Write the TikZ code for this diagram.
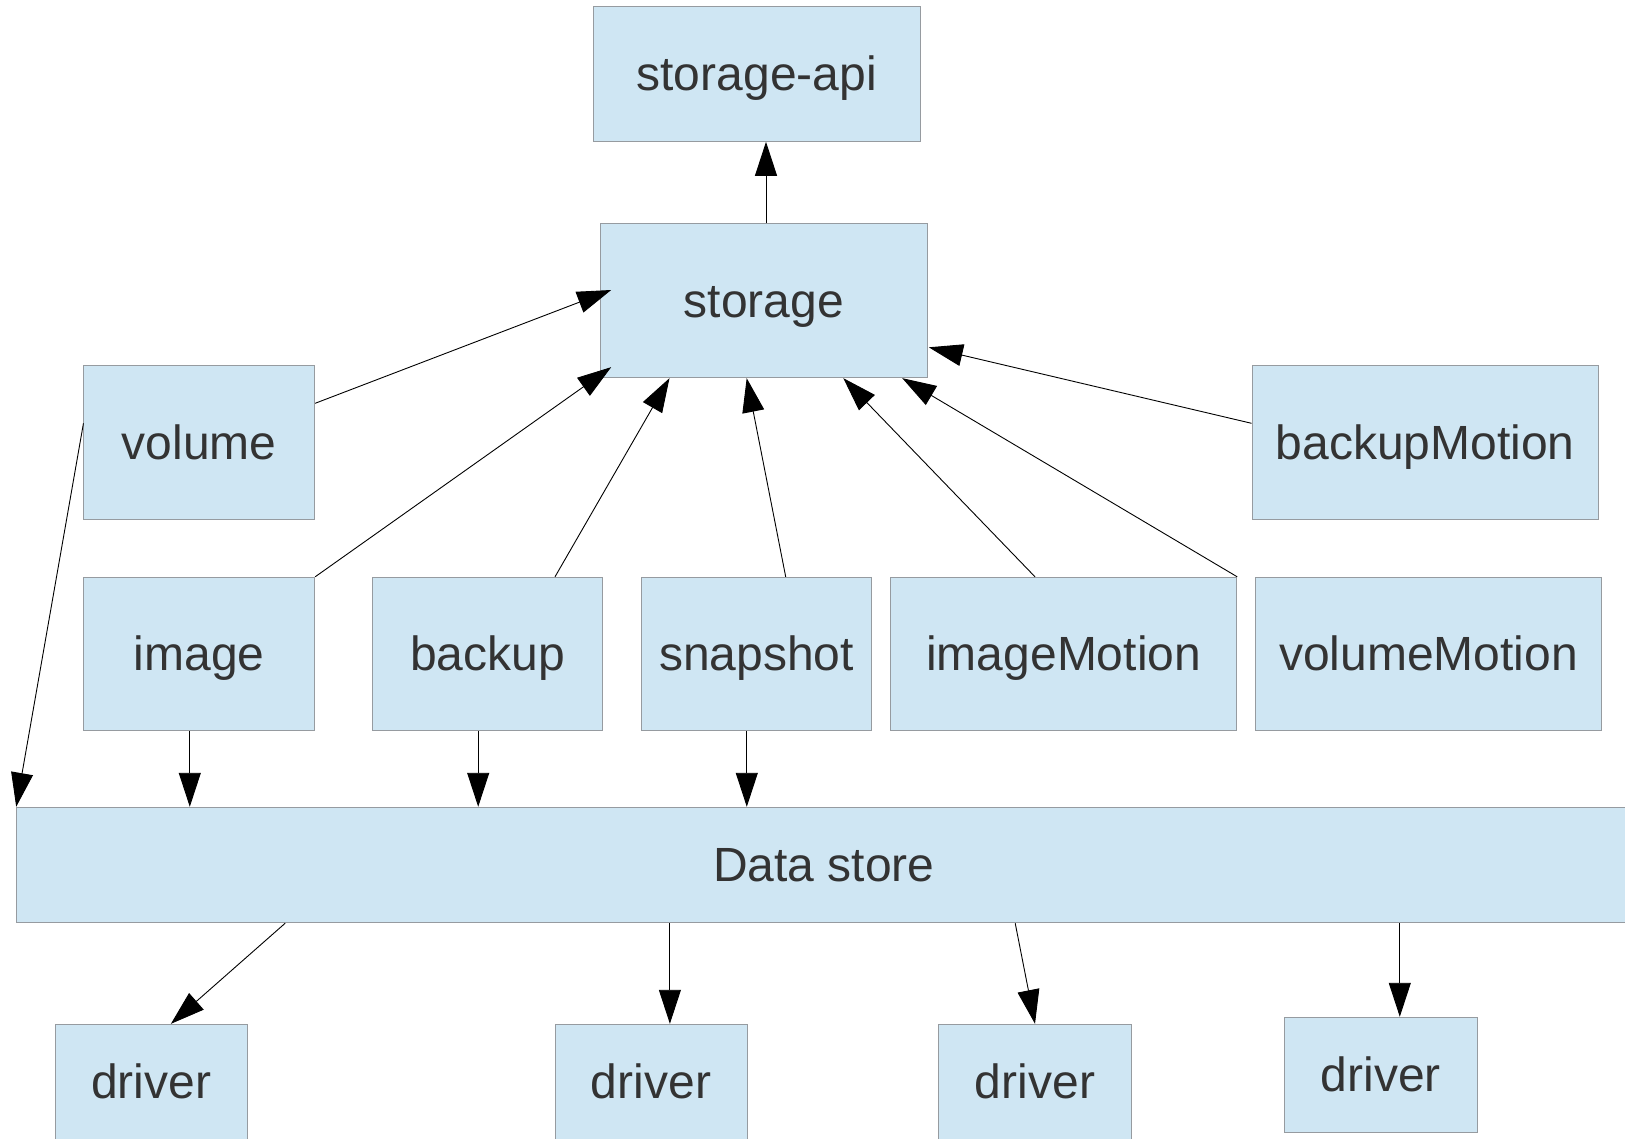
\documentclass[tikz,border=0pt]{standalone}
\usepackage{fontspec}
\setmainfont{Liberation Sans}
\usetikzlibrary{arrows.meta,calc}
\definecolor{boxfill}{RGB}{207,230,243}
\definecolor{boxline}{RGB}{150,155,160}
\definecolor{labeltext}{RGB}{51,51,51}

\begin{document}
\begin{tikzpicture}[x=1pt,y=-1pt,
  box/.style={draw=boxline, fill=boxfill, line width=1pt, inner sep=0pt,
    text=labeltext, font=\fontsize{48}{57}\selectfont,
    text height=33pt, text depth=0pt},
  link/.style={draw=black, line width=0.9pt,
    -{Triangle[length=34pt,width=22pt]}}]

\clip (0,0) rectangle (1625,1138);
\fill[white] (0,0) rectangle (1625,1138);

% top
\node[box, minimum width=326.7pt, minimum height=134.6pt] (api) at (756.7,74) {storage-api};
\node[box, minimum width=326.6pt, minimum height=153.7pt] (storage) at (764,300.8) {storage};

% services
\node[box, minimum width=230.7pt, minimum height=153.6pt] (volume) at (199.3,442.5) {volume};
\node[box, minimum width=346.3pt, minimum height=153.6pt] (backupMotion) at (1425.2,442.5) {backupMotion};
\node[box, minimum width=230.7pt, minimum height=153.4pt] (image) at (199.3,654) {image};
\node[box, minimum width=230pt, minimum height=153.4pt] (backup) at (487.5,654) {backup};
\node[box, minimum width=230.3pt, minimum height=153.4pt] (snapshot) at (756.4,654) {snapshot};
\node[box, minimum width=346pt, minimum height=153.4pt] (imageMotion) at (1063.7,654) {imageMotion};
\node[box, minimum width=346.4pt, minimum height=153.4pt] (volumeMotion) at (1428.5,654) {volumeMotion};

% data store and drivers
\node[box, minimum width=1614.3pt, minimum height=115.4pt] (datastore) at (823.85,865) {Data store};
\node[box, minimum width=192.3pt, minimum height=115pt] (driver1) at (151.3,1081.8) {driver};
\node[box, minimum width=192pt, minimum height=115pt] (driver2) at (651,1081.8) {driver};
\node[box, minimum width=193pt, minimum height=115pt] (driver3) at (1035,1081.8) {driver};
\node[box, minimum width=192.6pt, minimum height=115pt] (driver4) at (1380.9,1074.8) {driver};

% connectors into storage
\coordinate (apiin) at ($(storage.north)+(2,0)$);
\draw[link] (apiin) -- (apiin |- api.south);
\draw[link] ($(volume.east)+(0,-39.2)$) -- ($(storage.west)+(11,-10.8)$);
\draw[link] (image.north east) -- ($(storage.south west)+(11,-11)$);
\draw[link] ($(backup.north)+(67.5,0)$) -- ($(storage.south west)+(69.3,0)$);
\draw[link] ($(snapshot.north)+(29.3,0)$) -- ($(storage.south)+(-17.3,0)$);
\draw[link] ($(imageMotion.north)+(-28.7,0)$) -- ($(storage.south)+(79.3,0)$);
\draw[link] (imageMotion.north east) -- ($(storage.south east)+(-25.6,0)$);
\draw[link] ($(backupMotion.west)+(0,-19.2)$) -- ($(storage.east)+(1,46.5)$);

% connectors into the data store
\draw[link] ($(volume.west)+(0,-19.2)$) -- (datastore.north west);
\coordinate (imgout) at ($(image.south)+(-9.5,0)$);
\coordinate (bakout) at ($(backup.south)+(-9.3,0)$);
\coordinate (snapout) at ($(snapshot.south)+(-9.6,0)$);
\draw[link] (imgout) -- (imgout |- datastore.north);
\draw[link] (bakout) -- (bakout |- datastore.north);
\draw[link] (snapout) -- (snapout |- datastore.north);

% connectors to the drivers
\coordinate (d2in) at ($(driver2.north)+(18.9,0)$);
\coordinate (d4in) at ($(driver4.north)+(18.9,0)$);
\draw[link] ($(datastore.south west)+(269,0)$) -- ($(driver1.north)+(19.6,0)$);
\draw[link] (d2in |- datastore.south) -- (d2in);
\draw[link] ($(datastore.south west)+(999,0)$) -- (driver3.north);
\draw[link] (d4in |- datastore.south) -- (d4in);

\end{tikzpicture}
\end{document}
